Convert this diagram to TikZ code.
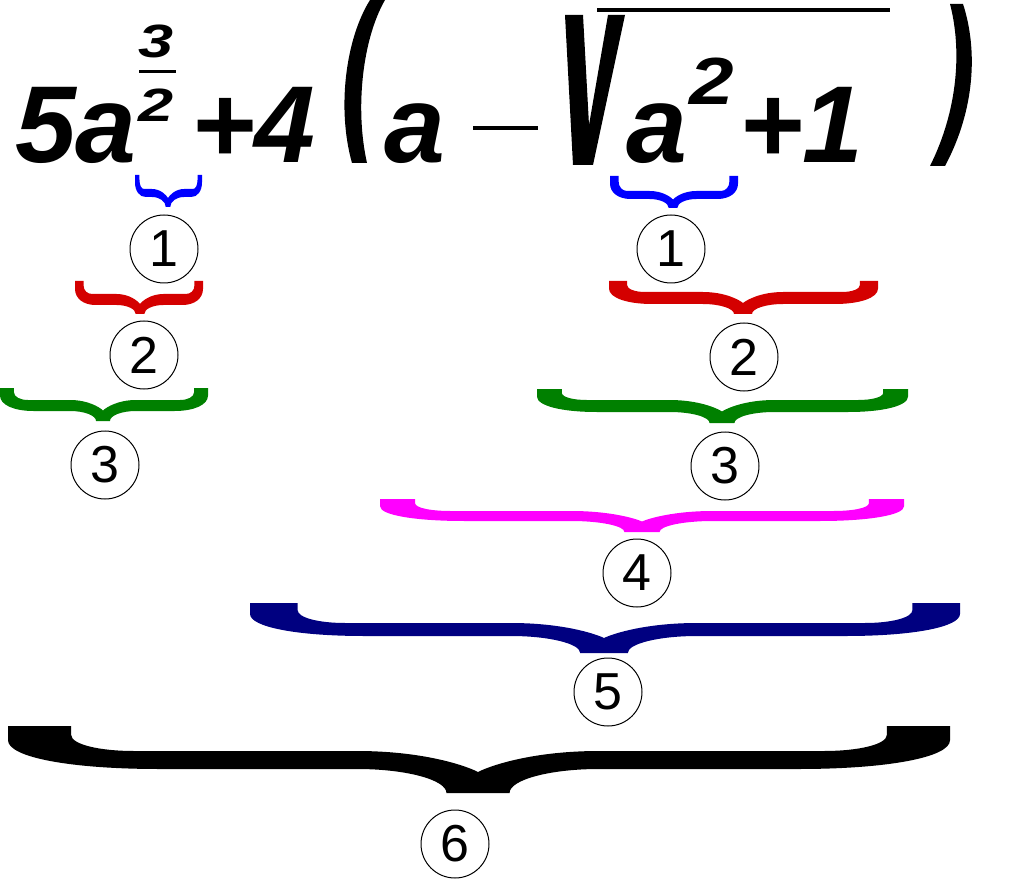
\documentclass[tikz,border=0pt]{standalone}
\usepackage{fontspec}
\setmainfont{Liberation Sans}
\definecolor{bred}{HTML}{D40000}
\definecolor{bgreen}{HTML}{008000}
\definecolor{bmag}{HTML}{FF00FF}
\definecolor{bnavy}{HTML}{000080}
\definecolor{bblue}{HTML}{0000FF}
\newcommand\mkbrace[8]{%
 \pgfmathsetmacro\bzL{#2}\pgfmathsetmacro\bzR{#3}\pgfmathsetmacro\bzC{#4}%
 \pgfmathsetmacro\bzS{0.067*(#3-#2)}%
 \pgfmathsetmacro\bzD{0.12*(#3-#2)+8}%
 \pgfmathsetmacro\bzyA{#5}%
 \pgfmathsetmacro\bzyI{#5+0.35*#7}%
 \pgfmathsetmacro\bzyO{#5+0.33*(#7+#8)}%
 \pgfmathsetmacro\bzyBT{#5+#7}%
 \pgfmathsetmacro\bzyBB{#5+#7+#8}%
 \pgfmathsetmacro\bzyT{#5+#6}%
 \pgfmathsetmacro\bzyC{#5+#7+0.5*(#6-#7)}%
 \fill[#1] (\bzL,\bzyA) -- ({\bzL+\bzS},\bzyA) -- ({\bzL+\bzS},\bzyI)
  .. controls ({\bzL+\bzS},{\bzyI+0.6*(\bzyBT-\bzyI)}) and ({\bzL+1.45*\bzS},\bzyBT) .. ({\bzL+2*\bzS},\bzyBT)
  -- ({\bzC-\bzD},\bzyBT)
  .. controls ({\bzC-0.45*\bzD},\bzyBT) and ({\bzC-0.1*\bzD},{\bzyC-0.3*(\bzyC-\bzyBT)}) .. (\bzC,\bzyC)
  .. controls ({\bzC+0.1*\bzD},{\bzyC-0.3*(\bzyC-\bzyBT)}) and ({\bzC+0.45*\bzD},\bzyBT) .. ({\bzC+\bzD},\bzyBT)
  -- ({\bzR-2*\bzS},\bzyBT)
  .. controls ({\bzR-1.45*\bzS},\bzyBT) and ({\bzR-\bzS},{\bzyI+0.6*(\bzyBT-\bzyI)}) .. ({\bzR-\bzS},\bzyI)
  -- ({\bzR-\bzS},\bzyA) -- (\bzR,\bzyA) -- (\bzR,\bzyO)
  .. controls (\bzR,{\bzyO+0.6*(\bzyBB-\bzyO)}) and ({\bzR-\bzS},\bzyBB) .. ({\bzR-2.4*\bzS},\bzyBB)
  -- ({\bzC+\bzD},\bzyBB)
  .. controls ({\bzC+0.5*\bzS+0.45*(\bzD-0.5*\bzS)},\bzyBB) and ({\bzC+0.5*\bzS},{\bzyBB+0.45*(\bzyT-\bzyBB)}) .. ({\bzC+0.5*\bzS},\bzyT)
  -- ({\bzC-0.5*\bzS},\bzyT)
  .. controls ({\bzC-0.5*\bzS},{\bzyBB+0.45*(\bzyT-\bzyBB)}) and ({\bzC-0.5*\bzS-0.45*(\bzD-0.5*\bzS)},\bzyBB) .. ({\bzC-\bzD},\bzyBB)
  -- ({\bzL+2.4*\bzS},\bzyBB)
  .. controls ({\bzL+\bzS},\bzyBB) and (\bzL,{\bzyO+0.6*(\bzyBB-\bzyO)}) .. (\bzL,\bzyO)
  -- cycle;}
\tikzset{
  big/.style={font=\fontsize{82}{82}\selectfont\bfseries\itshape, inner sep=0pt, outer sep=0pt, anchor=base west},
  supl/.style={font=\fontsize{35}{35}\selectfont\bfseries\itshape, inner sep=0pt, outer sep=0pt, anchor=base, xscale=1.35, transform shape},
  supr/.style={font=\fontsize{50}{50}\selectfont\bfseries\itshape, inner sep=0pt, outer sep=0pt, anchor=base west, xscale=1.2, transform shape},
  circ/.style={circle, draw=black, line width=0.75pt, minimum size=51pt, inner sep=0pt, font=\fontsize{39}{39}\selectfont},
}
\begin{document}
\begin{tikzpicture}[x=0.75pt,y=-0.75pt]
\useasboundingbox (0,0) rectangle (1024,880);
% formula
\node[big] (t5a) at (15,163) {5a};
\node[supl] (t3) at (156,58) {3};
\fill (139,70) rectangle (176,73.5);
\node[supl] (t2) at (156,122) {2};
\node[big] (tp4) at (191,163) {+4};
\fill (370,0) .. controls (345,40) and (337,110) .. (352,163) -- (367,163) .. controls (355,110) and (362,40) .. (385,0) -- cycle;
\node[big] (ta) at (384,163) {a};
\fill (473,126) rectangle (538,130.5);
\fill (565,15) -- (583,15) -- (589,125) -- (608,15) -- (625,15) -- (593,165) -- (573,165) -- cycle;
\fill (597,8) rectangle (890,12);
\node[big] (ta2) at (626,163) {a};
\node[supr] (ts2) at (689,105) {2};
\node[big] (tp1) at (739,163) {+1};
\fill (950,4) -- (963,4) .. controls (978,50) and (975,110) .. (945,166) -- (930,166) .. controls (958,110) and (962,50) .. (950,4) -- cycle;
% braces
\mkbrace{bblue}{135}{202}{168}{175}{32}{14}{8}
\mkbrace{bblue}{610}{738}{673}{176}{32}{15}{8}
\mkbrace{bred}{75}{203}{140}{281}{33}{13}{11}
\mkbrace{bred}{609}{878}{743}{281}{33}{11}{12}
\mkbrace{bgreen}{0}{208}{103}{388}{33}{12}{11}
\mkbrace{bgreen}{537}{908}{722}{389}{34}{11}{12}
\mkbrace{bmag}{380}{904}{642}{499}{33}{12}{10}
\mkbrace{bnavy}{250}{960}{604}{603}{50}{20}{13}
\mkbrace{black}{8}{950}{478}{726}{67}{25}{18}
% circled numbers
\node[circ] (c1l) at (164,249) {1};
\node[circ] (c2l) at (144,355) {2};
\node[circ] (c3l) at (105,465) {3};
\node[circ] (c1r) at (671,249) {1};
\node[circ] (c2r) at (744,357) {2};
\node[circ] (c3r) at (725,466) {3};
\node[circ] (c4) at (637,573) {4};
\node[circ] (c5) at (608,692) {5};
\node[circ] (c6) at (455,844) {6};
\end{tikzpicture}
\end{document}
